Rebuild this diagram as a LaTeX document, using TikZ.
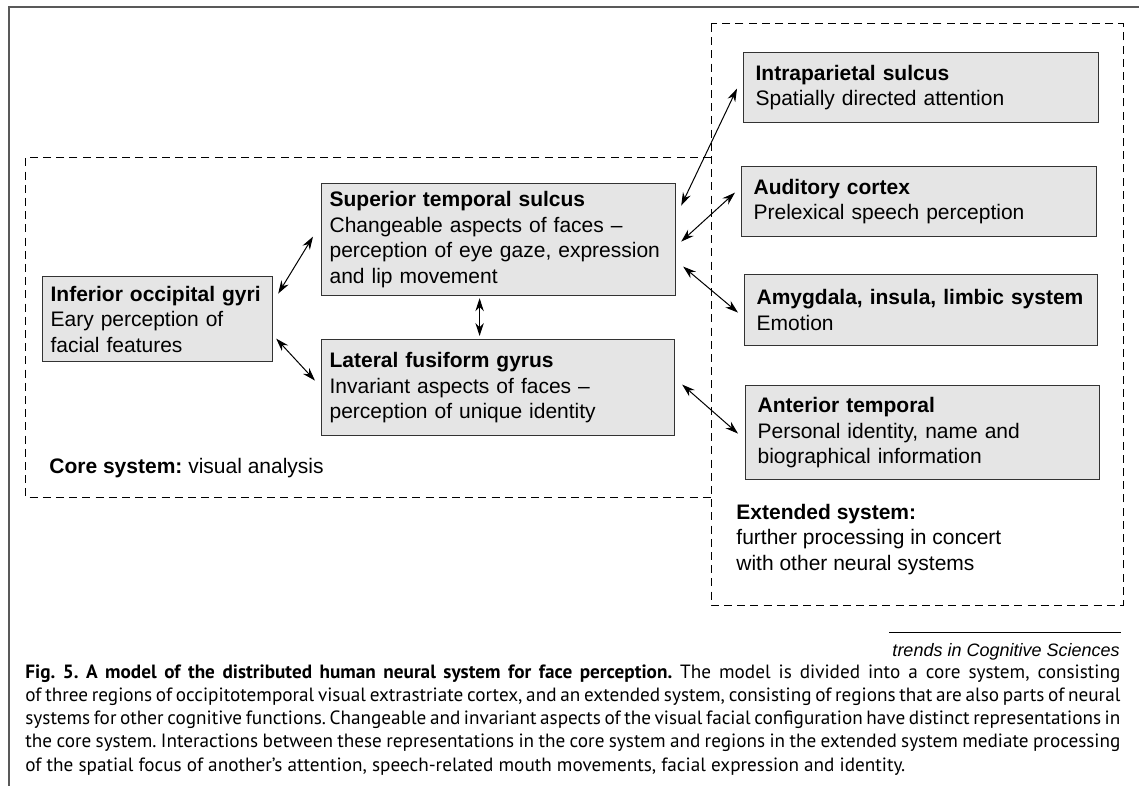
\documentclass[tikz,border=0pt]{standalone}
\usepackage{fontspec}
\setmainfont{Liberation Sans}
\newfontfamily\capfont{PT Sans}
\usepackage{tikz}
\usetikzlibrary{arrows.meta,positioning,calc}
\definecolor{boxfill}{gray}{0.9}
\definecolor{rulegray}{gray}{0.35}
\newcommand{\area}[2]{\textbf{#1}\\#2}
\newcommand{\capline}[1]{\makebox[547.5pt][s]{#1}}
\frenchspacing

\tikzset{
  region/.style={draw=black!80, fill=boxfill, line width=0.6pt, anchor=north west,
    align=left, inner xsep=4pt, minimum height=#1},
  farregion/.style={region=#1, inner xsep=6pt},
  link/.style={{Stealth[length=6.5pt,width=4.2pt]}-{Stealth[length=6.5pt,width=4.2pt]}, line width=0.5pt},
  sysframe/.style={dash pattern=on 4pt off 2.6pt, line width=0.5pt},
  syslabel/.style={anchor=base west, inner sep=0pt}
}

\begin{document}
\begin{tikzpicture}[x=0.5pt, y=-0.5pt, font=\fontsize{10.5}{12.75}\selectfont]
\useasboundingbox (0,0) rectangle (1139,786);
\draw[rulegray, line width=0.6pt] (9,786) |- (1139,7);

\draw[sysframe] (711,158) -- (25,158) -- (25,497) -- (711,497);
\draw[sysframe] (711,24) rectangle (1123,605);

\node[region=42.5pt, text width=107pt] (iog) at (42,276)
  {\area{Inferior occipital gyri}{Eary perception of\\facial features}};
\node[region=56pt, text width=169pt] (sts) at (321,183)
  {\area{Superior temporal sulcus}{Changeable aspects of faces --\\perception of eye gaze, expression\\and lip movement}};
\node[region=48pt, text width=168.5pt] (lfg) at (321,339)
  {\area{Lateral fusiform gyrus}{Invariant aspects of faces --\\perception of unique identity}};

\node[farregion=35pt, text width=165.5pt] (ips) at (743,52)
  {\area{Intraparietal sulcus}{Spatially directed attention}};
\node[farregion=35pt, text width=165.5pt] (ac) at (741,166)
  {\area{Auditory cortex}{Prelexical speech perception}};
\node[farregion=35.5pt, text width=164.5pt] (amy) at (744,274)
  {\area{Amygdala, insula, limbic system}{Emotion}};
\node[farregion=47pt, text width=165pt] (at) at (745,385)
  {\area{Anterior temporal}{Personal identity, name and\\biographical information}};

\node[syslabel] (corelbl) at (49,473) {\textbf{Core system:} visual analysis};
\node[syslabel, align=left] (extlbl) at (736,570)
  {\textbf{Extended system:}\\further processing in concert\\with other neural systems};

\draw[link] ([shift={(5,-25.5)}]iog.east) -- ([shift={(-8,-3)}]sts.west);
\draw[link] ([shift={(3,19.5)}]iog.east) -- ([shift={(-6,-7)}]lfg.west);
\draw[link] ([shift={(-19,2)}]sts.south) -- ([shift={(-18.5,-3)}]lfg.north);
\draw[link] ([shift={(5,-34)}]sts.east) -- ([shift={(-6,1)}]ips.west);
\draw[link] ([shift={(5,2)}]sts.east) -- ([shift={(-6,-9)}]ac.west);
\draw[link] ([shift={(7,27)}]sts.east) -- ([shift={(-6,2.5)}]amy.west);
\draw[link] ([shift={(7,-3)}]lfg.east) -- ([shift={(-7,1)}]at.west);

\node[anchor=base east, inner sep=0pt, font=\fontsize{9}{11}\selectfont\itshape] (credit) at (1120,656)
  {trends in Cognitive Sciences};
\draw[line width=0.5pt] ([shift={(-3,-10)}]credit.north west) -- ([shift={(1,-10)}]credit.north east);

\node[anchor=north west, inner sep=0pt, align=left, font=\capfont\fontsize{9.6}{11.65}\selectfont] (caption) at (25,664)
  {\capline{\textbf{Fig. 5. A model of the distributed human neural system for face perception.} The model is divided into a core system, consisting}\\
   \capline{of three regions of occipitotemporal visual extrastriate cortex, and an extended system, consisting of regions that are also parts of neural}\\
   \capline{systems for other cognitive functions. Changeable and invariant aspects of the visual facial configuration have distinct representations in}\\
   \capline{the core system. Interactions between these representations in the core system and regions in the extended system mediate processing}\\
   of the spatial focus of another’s attention, speech-related mouth movements, facial expression and identity.};
\end{tikzpicture}
\end{document}
